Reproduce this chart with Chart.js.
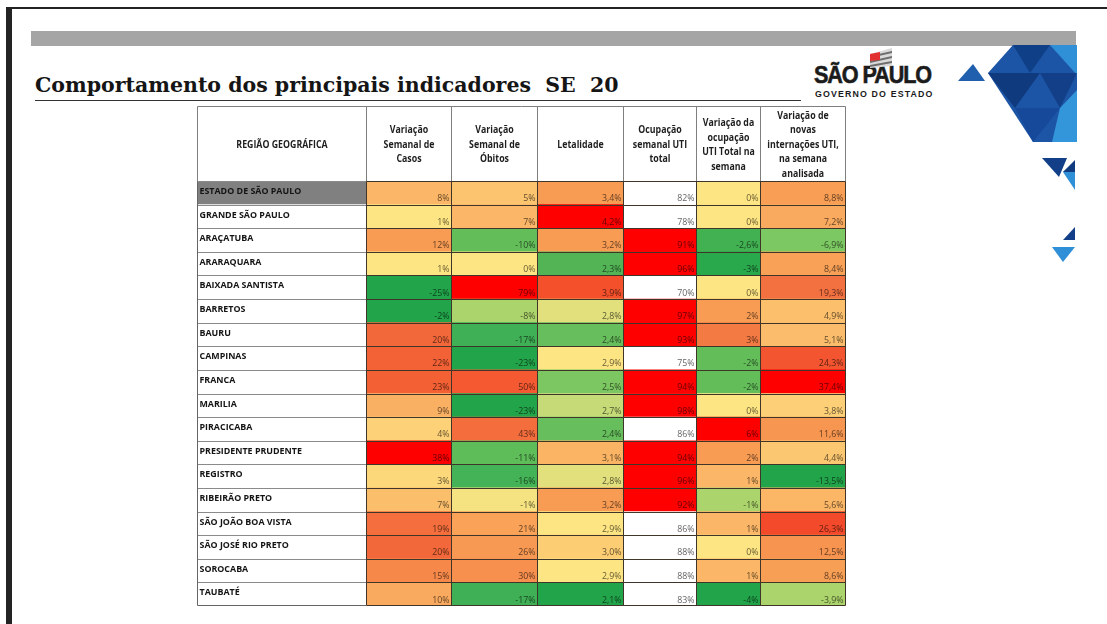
<!DOCTYPE html>
<html lang="pt">
<head>
<meta charset="utf-8">
<title>Comportamento dos principais indicadores SE 20</title>
<script src="https://cdn.jsdelivr.net/npm/chart.js@4.4.1/dist/chart.umd.min.js"></script>
<style>
  html, body { margin: 0; padding: 0; background: #fff; }
  body { width: 1107px; height: 624px; position: relative; overflow: hidden; }
  .frame-left { position: absolute; left: 6px; top: 7px; width: 6px; height: 617px; background: #232323; }
  .frame-top { position: absolute; left: 6px; top: 7px; width: 1101px; height: 2px; background: #232323; }
  .grey-bar { position: absolute; left: 31px; top: 31px; width: 1045px; height: 15px; background: #a5a5a5; }
  #title {
    position: absolute; left: 35px; top: 73px; white-space: pre;
    font-family: "DejaVu Serif", serif; font-weight: bold; font-size: 20.5px; color: #151515;
    letter-spacing: 0;
  }
  .underline { position: absolute; left: 35px; top: 100px; width: 766px; height: 1px; background: #333; }
  #logo1 {
    position: absolute; left: 814px; top: 61px; font-family: "Liberation Sans", sans-serif;
    font-weight: bold; font-size: 24px; color: #1b1b1b; letter-spacing: -1.2px;
    transform-origin: 0 0; transform: scaleX(0.9); white-space: nowrap;
    -webkit-text-stroke: 0.6px #1b1b1b;
  }
  #logo2 {
    position: absolute; left: 815px; top: 89px; font-family: "Liberation Sans", sans-serif;
    font-weight: bold; font-size: 8.8px; color: #1b1b1b; letter-spacing: 1.15px; white-space: nowrap;
  }
  #deco { position: absolute; left: 0; top: 0; }
  #tableWrap { position: absolute; left: 196px; top: 106px; width: 651px; height: 501px; }
</style>
</head>
<body>
<div class="frame-left"></div>
<div class="frame-top"></div>
<div class="grey-bar"></div>
<div id="title">Comportamento dos principais indicadores  SE  20</div>
<div class="underline"></div>
<div id="logo1">SÃO PAULO</div>
<div id="logo2">GOVERNO DO ESTADO</div>
<svg id="deco" width="1107" height="300">
  <!-- emblem -->
  <polygon points="870,54 892,48 892,66 870,68" fill="#d9d9d9"/>
  <polygon points="870,56 892,51 892,53 870,58" fill="#6d6d6d"/>
  <polygon points="870,61 892,56 892,58 870,63" fill="#6d6d6d"/>
  <polygon points="870,65 892,61 892,63 870,67" fill="#6d6d6d"/>
  <polygon points="870,54 880,52 880,60 870,61" fill="#e23030"/>
  <!-- triangles -->
  <polygon points="958,81 973,64 985,81" fill="#1f5fae"/>
  <polygon points="1013,45 1077,45 1077,142 1033,142 988,73" fill="#1d55a6"/>
  <polygon points="1013,45 1050,45 1030,73" fill="#0f3f86"/>
  <polygon points="1050,45 1077,45 1077,75" fill="#2f8fd7"/>
  <polygon points="988,73 1040,73 1015,108" fill="#0f3a7e"/>
  <polygon points="1040,73 1077,73 1060,108" fill="#123f88"/>
  <polygon points="1015,108 1060,108 1033,142" fill="#17499a"/>
  <polygon points="1060,108 1077,90 1077,142 1052,142" fill="#3396da"/>
  <polygon points="1042,158 1067,158 1059,177" fill="#123f88"/>
  <polygon points="1063,172 1075,162 1075,190" fill="#2f8fd7"/>
  <polygon points="1063,172 1075,160 1075,172" fill="#0f3a7e"/>
  <polygon points="1063,240 1075,227 1075,240" fill="#123f88"/>
  <polygon points="1052,247 1075,247 1063,262" fill="#2f8fd7"/>
</svg>
<div id="tableWrap"><canvas id="chartCanvas"></canvas></div>
<script>
// ---- data ----
const regions = [
  "ESTADO DE SÃO PAULO", "GRANDE SÃO PAULO", "ARAÇATUBA", "ARARAQUARA",
  "BAIXADA SANTISTA", "BARRETOS", "BAURU", "CAMPINAS", "FRANCA", "MARILIA",
  "PIRACICABA", "PRESIDENTE PRUDENTE", "REGISTRO", "RIBEIRÃO PRETO",
  "SÃO JOÃO BOA VISTA", "SÃO JOSÉ RIO PRETO", "SOROCABA", "TAUBATÉ"
];
const varCasos = [8, 1, 12, 1, -25, -2, 20, 22, 23, 9, 4, 38, 3, 7, 19, 20, 15, 10];
const varObitos = [5, 7, -10, 0, 79, -8, -17, -23, 50, -23, 43, -11, -16, -1, 21, 26, 30, -17];
const letalidade = [3.4, 4.2, 3.2, 2.3, 3.9, 2.8, 2.4, 2.9, 2.5, 2.7, 2.4, 3.1, 2.8, 3.2, 2.9, 3.0, 2.9, 2.1];
const ocupacaoUti = [82, 78, 91, 96, 70, 97, 93, 75, 94, 98, 86, 94, 96, 92, 86, 88, 88, 83];
const varOcupacao = [0, 0, -2.6, -3, 0, 2, 3, -2, -2, 0, 6, 2, 1, -1, 1, 0, 1, -4];
const varInternacoes = [8.8, 7.2, -6.9, 8.4, 19.3, 4.9, 5.1, 24.3, 37.4, 3.8, 11.6, 4.4, -13.5, 5.6, 26.3, 12.5, 8.6, -3.9];

const headers = [
  ["REGIÃO GEOGRÁFICA"],
  ["Variação", "Semanal de", "Casos"],
  ["Variação", "Semanal de", "Óbitos"],
  ["Letalidade"],
  ["Ocupação", "semanal UTI", "total"],
  ["Variação da", "ocupação", "UTI Total na", "semana"],
  ["Variação de", "novas", "internações UTI,", "na semana", "analisada"]
];

const columns = [varCasos, varObitos, letalidade, ocupacaoUti, varOcupacao, varInternacoes];
const decimals = [0, 0, 1, 0, null, 1];

// ---- layout / style ----
const colEdges = [0, 169, 254, 340, 426, 499, 563, 648];
const headerHeight = 75;

const G3 = "#22a54a", G2 = "#63be5a", G1 = "#acd46c", Y = "#fee583";
const O1 = "#fbb767", O2 = "#f89c54", O3 = "#f3683a", R = "#ff0000";
const colorStops = [
  [[-25, G3], [-2, G3], [1, Y], [8, O1], [12, O2], [20, O3], [25, "#f25a30"], [38, R]],
  [[-23, G3], [-17, "#3fb055"], [-10, G2], [-8, G1], [0, Y], [7, O1], [25, O2], [45, O3], [79, R]],
  [[2.1, G3], [2.3, "#52b455"], [2.5, "#7cc762"], [2.7, "#c6da78"], [2.9, Y], [3.2, O2], [3.4, O2], [3.9, "#f4502c"], [4.2, R]],
  [[89.99, "#ffffff"], [90, R]],
  [[-4, G3], [-3, "#2aa84c"], [-2, G2], [-1, G1], [0, Y], [1, O1], [2, O2], [3, "#f47a44"], [6, R]],
  [[-13.5, G3], [-6.9, "#7cc862"], [-3.9, G1], [0, Y], [3.8, "#fdd077"], [5.5, O1], [9, O2], [12.5, "#f7944f"], [19.3, "#f37040"], [26.3, "#f24a2a"], [37.4, R]]
];

function hexToRgb(h) {
  const n = parseInt(h.slice(1), 16);
  return [(n >> 16) & 255, (n >> 8) & 255, n & 255];
}

function scaleColor(stops, v) {
  if (v <= stops[0][0]) return hexToRgb(stops[0][1]);
  for (let i = 1; i < stops.length; i++) {
    if (v <= stops[i][0]) {
      const [a, ca] = stops[i - 1];
      const [b, cb] = stops[i];
      const t = (v - a) / (b - a);
      const A = hexToRgb(ca), B = hexToRgb(cb);
      return A.map((c, k) => Math.round(c + (B[k] - c) * t));
    }
  }
  return hexToRgb(stops[stops.length - 1][1]);
}

function cellRgb(col, row) {
  if (col === 0) return row === 0 ? [128, 128, 128] : [255, 255, 255];
  return scaleColor(colorStops[col - 1], columns[col - 1][row]);
}

const rgbStr = (c) => `rgb(${c[0]},${c[1]},${c[2]})`;

function formatValue(col, v) {
  let d = decimals[col];
  if (d === null) d = Number.isInteger(v) ? 0 : 1;
  return v.toFixed(d).replace(".", ",") + "%";
}

// ---- table drawing plugin ----
const tablePlugin = {
  id: "tablePlugin",
  afterDatasetsDraw(chart) {
    const { ctx, chartArea, scales } = chart;
    const xs = colEdges.map((e) => Math.round(scales.x.getPixelForValue(e)) + 0.5);
    const rowMeta = chart.getDatasetMeta(0).data;
    const rowTops = rowMeta.map((b) => b.y - b.height / 2);
    const top = Math.round(chartArea.top) + 0.5;
    const bottom = Math.round(chartArea.bottom) - 0.5;
    const headTop = Math.round(chartArea.top - headerHeight) + 0.5;

    ctx.save();
    // header
    ctx.fillStyle = "#ffffff";
    ctx.fillRect(xs[0], headTop, xs[xs.length - 1] - xs[0], top - headTop);
    ctx.strokeStyle = "#7f7f7f";
    ctx.lineWidth = 1;
    ctx.beginPath();
    ctx.moveTo(xs[0], headTop); ctx.lineTo(xs[xs.length - 1], headTop);
    xs.forEach((x) => { ctx.moveTo(x, headTop); ctx.lineTo(x, top); });
    ctx.stroke();
    ctx.fillStyle = "#1e1e1e";
    ctx.font = "bold 10px 'Open Sans', sans-serif";
    ctx.textAlign = "center";
    ctx.textBaseline = "middle";
    const lh = 14.5;
    headers.forEach((lines, i) => {
      const cx = (xs[i] + xs[i + 1]) / 2;
      const cy = (headTop + top) / 2 + 1;
      lines.forEach((t, k) => {
        ctx.save();
        ctx.translate(cx, cy + (k - (lines.length - 1) / 2) * lh);
        ctx.scale(0.88, 1);
        ctx.fillText(t, 0, 0);
        ctx.restore();
      });
    });

    // grid lines
    ctx.lineWidth = 1;
    rowTops.forEach((y) => {
      const yy = Math.round(y) + 0.5;
      ctx.strokeStyle = "#8a8a8a";
      ctx.beginPath(); ctx.moveTo(xs[0], yy); ctx.lineTo(xs[1], yy); ctx.stroke();
      ctx.strokeStyle = "#3f3528";
      ctx.beginPath(); ctx.moveTo(xs[1], yy); ctx.lineTo(xs[xs.length - 1], yy); ctx.stroke();
    });
    ctx.strokeStyle = "#3f3528";
    ctx.beginPath();
    for (let i = 1; i < xs.length; i++) { ctx.moveTo(xs[i], top); ctx.lineTo(xs[i], bottom); }
    ctx.moveTo(xs[1], bottom); ctx.lineTo(xs[xs.length - 1], bottom);
    ctx.stroke();
    ctx.strokeStyle = "#666";
    ctx.beginPath();
    ctx.moveTo(xs[0], top); ctx.lineTo(xs[0], bottom);
    ctx.moveTo(xs[0], bottom); ctx.lineTo(xs[1], bottom);
    ctx.stroke();

    // cell texts
    chart.data.datasets.forEach((ds, c) => {
      chart.getDatasetMeta(c).data.forEach((bar, r) => {
        const yTop = bar.y - bar.height / 2;
        if (c === 0) {
          ctx.font = "bold 8.9px 'Open Sans', sans-serif";
          ctx.textAlign = "left";
          ctx.textBaseline = "middle";
          ctx.fillStyle = "#141414";
          ctx.fillText(regions[r], xs[0] + 2, yTop + 10.5);
        } else {
          const bg = cellRgb(c, r);
          const txt = bg.map((v) => Math.round(v * 0.4));
          ctx.font = "8.8px 'Open Sans', sans-serif";
          ctx.textAlign = "right";
          ctx.textBaseline = "alphabetic";
          ctx.fillStyle = rgbStr(txt);
          ctx.fillText(formatValue(c - 1, columns[c - 1][r]), xs[c + 1] - 2, yTop + bar.height - 3.5);
        }
      });
    });
    ctx.restore();
  }
};

const datasets = headers.map((h, c) => ({
  label: h.join(" "),
  data: regions.map(() => [colEdges[c], colEdges[c + 1]]),
  backgroundColor: (ctx) => rgbStr(cellRgb(c, ctx.dataIndex)),
  borderWidth: 0,
  grouped: false,
  barPercentage: 1,
  categoryPercentage: 1
}));

new Chart(document.getElementById("chartCanvas").getContext("2d"), {
  type: "bar",
  data: { labels: regions, datasets },
  options: {
    indexAxis: "y",
    responsive: true,
    maintainAspectRatio: false,
    animation: false,
    layout: { padding: { top: headerHeight, left: 1, right: 2, bottom: 1 } },
    plugins: { legend: { display: false }, tooltip: { enabled: false } },
    scales: {
      x: { type: "linear", min: 0, max: colEdges[colEdges.length - 1], display: false },
      y: { display: false }
    }
  },
  plugins: [tablePlugin]
});
</script>
</body>
</html>
